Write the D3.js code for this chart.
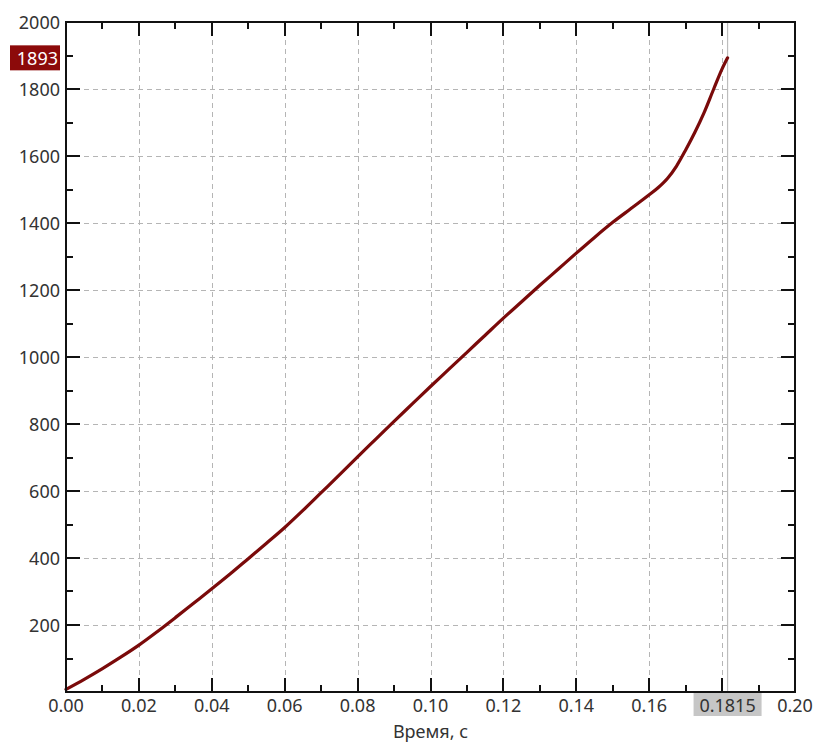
<!DOCTYPE html>
<html>
<head>
<meta charset="utf-8">
<script src="https://cdn.jsdelivr.net/npm/d3@7/dist/d3.min.js"></script>
<style>
  html, body { margin: 0; padding: 0; background: #fff; }
  svg { display: block; }
  text { font-family: "Noto Sans", "Open Sans", sans-serif; fill: #333; }
</style>
</head>
<body>
<svg id="chart" width="822" height="746"></svg>
<script>
// Measured trace: time (s) and value
const timeS = [0.000, 0.005, 0.010, 0.015, 0.020, 0.025, 0.030, 0.035, 0.040, 0.045,
  0.050, 0.055, 0.060, 0.065, 0.070, 0.075, 0.080, 0.085, 0.090, 0.095,
  0.100, 0.105, 0.110, 0.115, 0.120, 0.125, 0.130, 0.135, 0.140, 0.145,
  0.150, 0.155, 0.160, 0.1625, 0.165, 0.1675, 0.170, 0.1725, 0.175, 0.1777,
  0.180, 0.1815];
const values = [8, 38, 70, 104, 140, 180, 222, 265, 308, 352,
  398, 444, 491, 542, 595, 648, 702, 755, 808, 860,
  912, 963, 1014, 1065, 1116, 1165, 1214, 1262, 1310, 1357,
  1402, 1443, 1484, 1506, 1533, 1570, 1618, 1670, 1728, 1800,
  1860, 1893];

// Axis settings
const xDomain = [0, 0.20];
const yDomain = [0, 2000];
const xMajorTicks = [0.00, 0.02, 0.04, 0.06, 0.08, 0.10, 0.12, 0.14, 0.16, 0.18, 0.20];
const xMinorTicks = [0.01, 0.03, 0.05, 0.07, 0.09, 0.11, 0.13, 0.15, 0.17, 0.19];
const yMajorTicks = [200, 400, 600, 800, 1000, 1200, 1400, 1600, 1800, 2000];
const yMinorTicks = [100, 300, 500, 700, 900, 1100, 1300, 1500, 1700, 1900];
const xTitle = "Время, с";

// Cursor readout
const cursorTime = 0.1815;
const cursorValue = 1893;

const svg = d3.select("#chart");
const plotLeft = 66, plotRight = 795, plotTop = 22, plotBottom = 692;

const x = d3.scaleLinear().domain(xDomain).range([plotLeft, plotRight]);
const y = d3.scaleLinear().domain(yDomain).range([plotBottom, plotTop]);

// Dashed grid at major ticks
const grid = svg.append("g").attr("stroke", "#b5b5b5").attr("stroke-width", 1)
  .attr("stroke-dasharray", "5,4").attr("fill", "none");
grid.selectAll("line.gx")
  .data(xMajorTicks.filter(t => t > 0 && t < 0.2))
  .join("line").attr("class", "gx")
  .attr("x1", d => Math.round(x(d)) + 0.5).attr("x2", d => Math.round(x(d)) + 0.5)
  .attr("y1", plotTop).attr("y2", plotBottom);
grid.selectAll("line.gy")
  .data(yMajorTicks.filter(t => t < 2000))
  .join("line").attr("class", "gy")
  .attr("y1", d => Math.round(y(d)) + 0.5).attr("y2", d => Math.round(y(d)) + 0.5)
  .attr("x1", plotLeft).attr("x2", plotRight);

// Cursor line
svg.append("line")
  .attr("x1", x(cursorTime)).attr("x2", x(cursorTime))
  .attr("y1", plotTop).attr("y2", plotBottom)
  .attr("stroke", "#bdbdbd").attr("stroke-width", 1.2);

// Data line
const line = d3.line().x((d, i) => x(timeS[i])).y(d => y(d)).curve(d3.curveMonotoneX);
svg.append("path")
  .datum(values)
  .attr("d", line)
  .attr("fill", "none")
  .attr("stroke", "#7a0a0a")
  .attr("stroke-width", 3.2)
  .attr("stroke-linejoin", "round")
  .attr("stroke-linecap", "round");

// Frame
svg.append("rect").attr("x", plotLeft).attr("y", plotTop)
  .attr("width", plotRight - plotLeft).attr("height", plotBottom - plotTop)
  .attr("fill", "none").attr("stroke", "#111").attr("stroke-width", 2);

// Inward ticks on all four sides
const majorLen = 14, minorLen = 7;
const tickG = svg.append("g").attr("stroke", "#111").attr("stroke-width", 2);
const xTicks = xMajorTicks.map(v => ({ v, len: majorLen }))
  .concat(xMinorTicks.map(v => ({ v, len: minorLen })));
const yTicks = yMajorTicks.map(v => ({ v, len: majorLen }))
  .concat(yMinorTicks.map(v => ({ v, len: minorLen })));

tickG.selectAll("line.tb").data(xTicks).join("line").attr("class", "tb")
  .attr("x1", d => Math.round(x(d.v))).attr("x2", d => Math.round(x(d.v)))
  .attr("y1", plotBottom).attr("y2", d => plotBottom - d.len);
tickG.selectAll("line.tt").data(xTicks).join("line").attr("class", "tt")
  .attr("x1", d => Math.round(x(d.v))).attr("x2", d => Math.round(x(d.v)))
  .attr("y1", plotTop).attr("y2", d => plotTop + d.len);
tickG.selectAll("line.tl").data(yTicks).join("line").attr("class", "tl")
  .attr("y1", d => Math.round(y(d.v))).attr("y2", d => Math.round(y(d.v)))
  .attr("x1", plotLeft).attr("x2", d => plotLeft + d.len);
tickG.selectAll("line.tr").data(yTicks).join("line").attr("class", "tr")
  .attr("y1", d => Math.round(y(d.v))).attr("y2", d => Math.round(y(d.v)))
  .attr("x1", plotRight).attr("x2", d => plotRight - d.len);

// Tick labels
const fs = 18;
svg.append("g").selectAll("text")
  .data(xMajorTicks.filter(t => Math.abs(t - 0.18) > 1e-9))
  .join("text")
  .attr("x", d => x(d)).attr("y", 705)
  .attr("text-anchor", "middle").attr("dominant-baseline", "central")
  .attr("font-size", fs).text(d => d3.format(".2f")(d));

svg.append("g").selectAll("text")
  .data(yMajorTicks)
  .join("text")
  .attr("x", 60).attr("y", d => y(d))
  .attr("text-anchor", "end").attr("dominant-baseline", "central")
  .attr("font-size", fs).text(d => d);

// Axis title
svg.append("text")
  .attr("x", (plotLeft + plotRight) / 2).attr("y", 731)
  .attr("text-anchor", "middle").attr("dominant-baseline", "central")
  .attr("font-size", fs).text(xTitle);

// Cursor readout boxes
const cx = x(cursorTime);
svg.append("rect").attr("x", cx - 34).attr("y", 693).attr("width", 68).attr("height", 23)
  .attr("fill", "#c6c6c6");
svg.append("text").attr("x", cx).attr("y", 705)
  .attr("text-anchor", "middle").attr("dominant-baseline", "central")
  .attr("font-size", fs).text(d3.format(".4f")(cursorTime));

const cy = y(cursorValue);
svg.append("rect").attr("x", 10).attr("y", cy - 12.5).attr("width", 50).attr("height", 25)
  .attr("fill", "#8c0a0a");
svg.append("text").attr("x", 58).attr("y", cy)
  .attr("text-anchor", "end").attr("dominant-baseline", "central")
  .attr("font-size", fs).style("fill", "#fff").text(cursorValue);
</script>
</body>
</html>
